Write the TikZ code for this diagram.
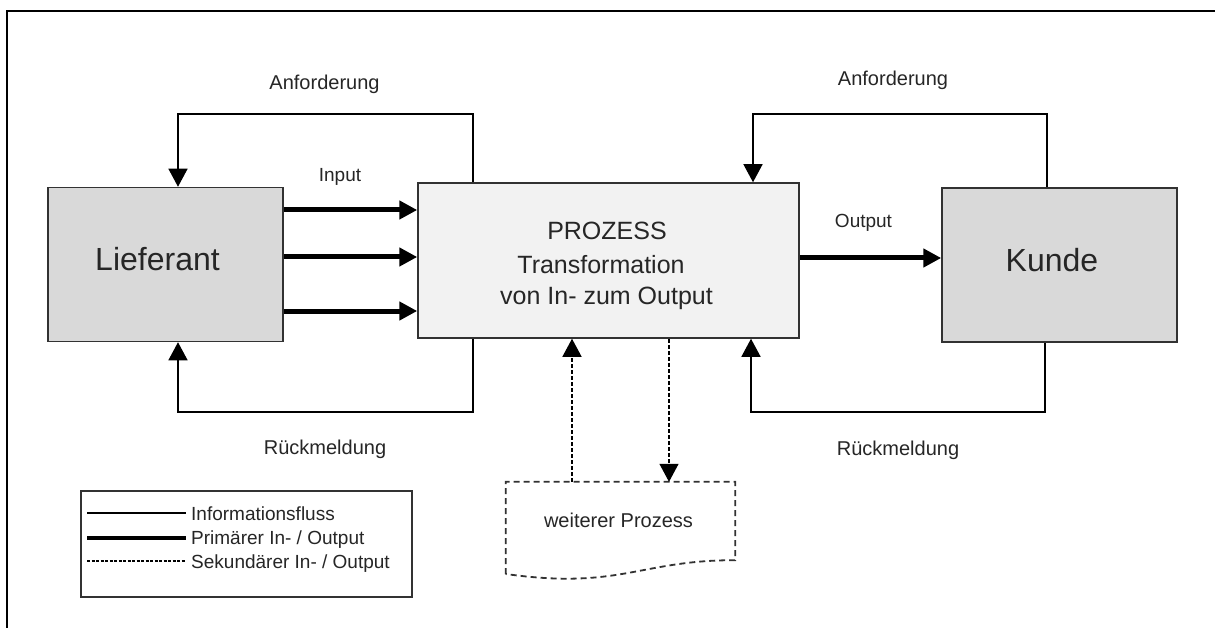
\documentclass[tikz,border=0pt]{standalone}
\usepackage{fontspec}
\setmainfont{Liberation Sans}
\usetikzlibrary{arrows.meta,calc}
\definecolor{txt}{RGB}{38,38,38}
\definecolor{edge}{RGB}{50,50,50}
\definecolor{boxdark}{RGB}{217,217,217}
\definecolor{boxlight}{RGB}{242,242,242}
\newcommand{\fs}[1]{\fontsize{#1}{#1}\selectfont}
\begin{document}
\begin{tikzpicture}[x=1pt,y=-1pt,
  box/.style={draw=edge,line width=1.5pt,inner sep=0pt},
  party/.style={box,fill=boxdark,minimum width=235pt,minimum height=154pt},
  lbl/.style={text=txt,inner sep=0pt,anchor=base},
  info/.style={draw=black,line width=1.3pt},
  infoarrow/.style={info,-{Triangle[length=18pt,width=19pt]}},
  primary/.style={draw=black,line width=5pt,-{Triangle[length=18pt,width=18pt]}},
  secondary/.style={draw=black,line width=1.3pt,dash pattern=on 4pt off 2pt,-{Triangle[length=18pt,width=19pt]}},
]
\useasboundingbox (0,0) rectangle (1215,628);
\fill[white] (0,0) rectangle (1215,628);

% page frame
\coordinate (fa) at (7,628);
\coordinate (fb) at (7,11);
\coordinate (fc) at (1215,11);
\draw[line width=2pt,black] (fa) -- (fb) -- (fc);

% main boxes
\node[party] (lief) at (165.5,264.5) {};
\node[box,fill=boxlight,minimum width=381pt,minimum height=155pt] (proc) at (608.5,260.5) {};
\node[party] (kunde) at (1059.5,265) {};

\node[lbl,font=\fs{32}] (tlief) at (157.5,271) {Lieferant};
\node[lbl,font=\fs{32}] (tkunde) at (1052,272) {Kunde};
\node[lbl,font=\fs{25}] (tp1) at (607,240) {PROZESS};
\node[lbl,font=\fs{25}] (tp2) at (601,273) {Transformation};
\node[lbl,font=\fs{25}] (tp3) at (606.5,305) {von In- zum Output};

% primary input / output
\foreach \yy in {210,257,311}
  \draw[primary] (lief.east |- 0,\yy) -- (proc.west |- 0,\yy);
\draw[primary] (proc.east |- 0,258) -- (kunde.west |- 0,258);
\node[lbl,font=\fs{19}] (lin) at (340,182) {Input};
\node[lbl,font=\fs{19}] (lout) at (863.5,228) {Output};

% information loops (left)
\coordinate (al1) at (178,114);
\coordinate (al2) at (473,114);
\draw[infoarrow] (proc.north -| al2) -- (al2) -- (al1) -- (lief.north -| al1);
\coordinate (rl1) at (178,412);
\coordinate (rl2) at (473,412);
\draw[infoarrow] (proc.south -| rl2) -- (rl2) -- (rl1) -- (lief.south -| rl1);
\node[lbl,font=\fs{20}] (lal) at (324.5,90) {Anforderung};
\node[lbl,font=\fs{20}] (lrl) at (325,454) {Rückmeldung};

% information loops (right)
\coordinate (ar1) at (753,114);
\coordinate (ar2) at (1047,114);
\draw[infoarrow] (kunde.north -| ar2) -- (ar2) -- (ar1) -- (proc.north -| ar1);
\coordinate (rr1) at (751,412);
\coordinate (rr2) at (1045,412);
\draw[infoarrow] (kunde.south -| rr2) -- (rr2) -- (rr1) -- (proc.south -| rr1);
\node[lbl,font=\fs{20}] (lar) at (893,86) {Anforderung};
\node[lbl,font=\fs{20}] (lrr) at (898,455) {Rückmeldung};

% further process (document shape)
\node[inner sep=0pt,minimum width=229pt,minimum height=78pt] (doc) at (620.5,521) {};
\draw[line width=1.8pt,dash pattern=on 6pt off 4pt,edge]
  (doc.south west |- 0,574) -- (doc.north west) -- (doc.north east) -- (doc.south east)
  .. controls (640,560) and (620,590) .. (doc.south west |- 0,574);
\node[lbl,font=\fs{20}] (tdoc) at (618.5,527) {weiterer Prozess};
\draw[secondary] (doc.north -| 572,0) -- (proc.south -| 572,0);
\draw[secondary] (proc.south -| 669,0) -- (doc.north -| 669,0);

% legend
\node[draw=edge,line width=1.5pt,inner sep=0pt,minimum width=331pt,minimum height=106pt] (leg) at (246.5,544) {};
\coordinate (l1a) at (87,513); \coordinate (l1b) at (186,513);
\coordinate (l2a) at (87,538); \coordinate (l2b) at (186,538);
\coordinate (l3a) at (87,561); \coordinate (l3b) at (186,561);
\draw[black,line width=1.3pt] (l1a) -- (l1b);
\draw[black,line width=4.5pt] (l2a) -- (l2b);
\draw[black,line width=1.2pt,dash pattern=on 3pt off 1.5pt] (l3a) -- (l3b);
\node[lbl,anchor=base west,font=\fs{19}] (lg1) at (191,520) {Informationsfluss};
\node[lbl,anchor=base west,font=\fs{19}] (lg2) at (191,544) {Primärer In- / Output};
\node[lbl,anchor=base west,font=\fs{19}] (lg3) at (191,568) {Sekundärer In- / Output};
\end{tikzpicture}
\end{document}
